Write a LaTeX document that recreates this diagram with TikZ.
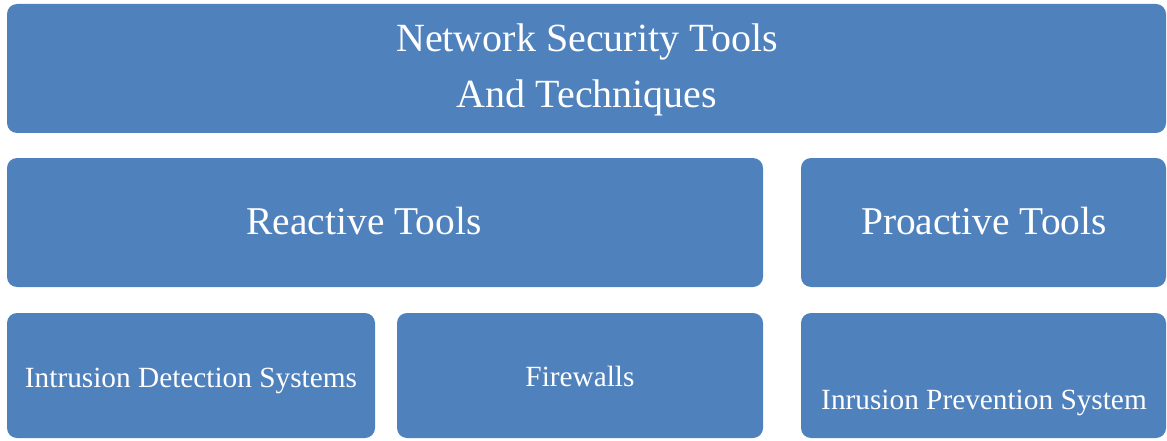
\documentclass[tikz,border=0pt]{standalone}
\usepackage{fontspec}
\setmainfont{Liberation Serif}
\definecolor{boxblue}{HTML}{4F81BD}
\tikzset{
  box/.style={fill=boxblue, rounded corners=10pt},
  labeltext/.style={text=white, anchor=base, inner sep=0pt},
  titletext/.style={labeltext, font=\fontsize{40}{57}\selectfont},
  bigtext/.style={labeltext, font=\fontsize{39.4}{57}\selectfont},
  smalltext/.style={labeltext, font=\fontsize{29.3}{34}\selectfont}
}
\begin{document}
\begin{tikzpicture}[x=1pt,y=1pt]
  \useasboundingbox (0,0) rectangle (1167,440);
  % boxes
  \fill[box] (7,436) rectangle (1166,307);
  \fill[box] (7,282) rectangle (763,153);
  \fill[box] (801,282) rectangle (1166,153);
  \fill[box] (7,127) rectangle (375,2);
  \fill[box] (397,127) rectangle (763,2);
  \fill[box] (801,127) rectangle (1166,2);
  % labels
  \node[titletext] (title1) at (587,388) {Network Security Tools};
  \node[titletext] (title2) at (587,332) {And Techniques};
  \node[bigtext] (reactive) at (364,206) {Reactive Tools};
  \node[bigtext] (proactive) at (984,206) {Proactive Tools};
  \node[smalltext] (ids) at (191,53) {Intrusion Detection Systems};
  \node[smalltext] (fw) at (580,54) {Firewalls};
  \node[smalltext] (ips) at (984,31) {Inrusion Prevention System};
\end{tikzpicture}
\end{document}
